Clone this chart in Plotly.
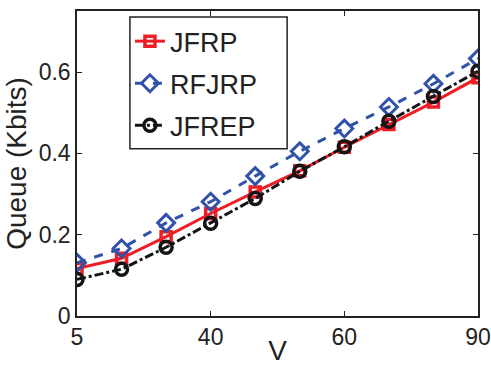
import plotly.graph_objects as go

x_pos = [0, 1, 2, 3, 4, 5, 6, 7, 8, 9]
tick_vals = [0, 3, 6, 9]
tick_text = ["5", "40", "60", "90"]

jfrp = [0.117, 0.142, 0.195, 0.252, 0.305, 0.357, 0.415, 0.471, 0.526, 0.586]
rfjrp = [0.131, 0.166, 0.229, 0.281, 0.344, 0.405, 0.461, 0.514, 0.571, 0.633]
jfrep = [0.090, 0.115, 0.169, 0.228, 0.289, 0.356, 0.416, 0.479, 0.540, 0.602]

red = "rgb(238,30,38)"
blue = "rgb(50,82,170)"
black = "rgb(20,20,20)"

fig = go.Figure()
fig.add_trace(go.Scatter(x=x_pos, y=jfrp, name="JFRP", mode="lines+markers",
                         legendgroup="a",
                         line=dict(color=red, width=3, dash="solid"),
                         marker=dict(symbol="square-open", size=10, color=red,
                                     line=dict(width=3.5, color=red))))
fig.add_trace(go.Scatter(x=x_pos, y=rfjrp, name="RFJRP", mode="lines+markers",
                         legendgroup="b",
                         line=dict(color=blue, width=3, dash="dash"),
                         marker=dict(symbol="diamond-open", size=13, color=blue,
                                     line=dict(width=3, color=blue))))
fig.add_trace(go.Scatter(x=x_pos, y=jfrep, name="JFREP", mode="lines+markers",
                         legendgroup="c",
                         line=dict(color=black, width=3, dash="dashdot"),
                         marker=dict(symbol="circle-open", size=12, color=black,
                                     line=dict(width=3.5, color=black))))

fam = "Liberation Sans, Arial, sans-serif"
font = dict(family=fam, size=23, color="#222")

# legend frame drawn as a paper-referenced rectangle
fig.add_shape(type="rect", xref="paper", yref="paper",
              x0=0.132, x1=0.524, y0=0.548, y1=0.980,
              line=dict(color="#222", width=1.5), fillcolor="rgba(0,0,0,0)",
              layer="above")

fig.update_layout(
    width=491, height=366,
    margin=dict(l=77, r=13, t=11, b=50, autoexpand=False),
    paper_bgcolor="white", plot_bgcolor="white",
    font=font,
    showlegend=True,
    legend=dict(x=0.132, y=0.98, xanchor="left", yanchor="top",
                borderwidth=0, bgcolor="rgba(0,0,0,0)",
                font=dict(family=fam, size=27, color="#222"),
                traceorder="grouped", tracegroupgap=4),
    xaxis=dict(range=[0, 9], tickmode="array", tickvals=tick_vals, ticktext=tick_text,
               showgrid=False, zeroline=False, showline=True, mirror="ticks",
               linecolor="#222", linewidth=1.5, ticks="inside", ticklen=5,
               tickcolor="#222", automargin=False,
               title=dict(text="V", standoff=3)),
    yaxis=dict(range=[0, 0.75], tickmode="array", tickvals=[0, 0.2, 0.4, 0.6],
               ticktext=["0", "0.2", "0.4", "0.6"],
               showgrid=False, zeroline=False, showline=True, mirror="ticks",
               linecolor="#222", linewidth=1.5, ticks="inside", ticklen=5,
               tickcolor="#222", automargin=False,
               title=dict(text="Queue (Kbits)", standoff=4)),
)

fig.write_html("out.html", config={"displayModeBar": False},
               post_script="document.body.style.margin='0';document.body.style.padding='0';")
